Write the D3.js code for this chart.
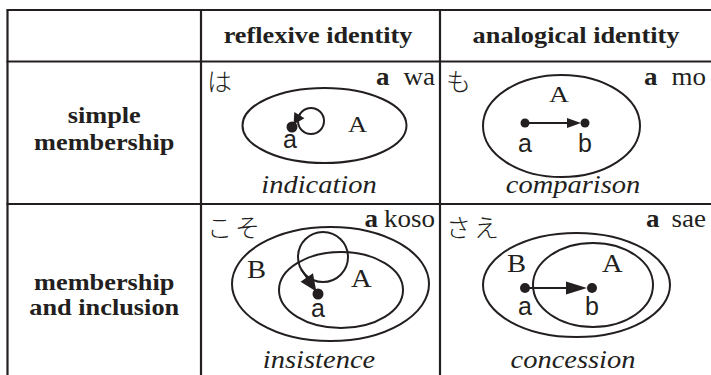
<!DOCTYPE html>
<html>
<head>
<meta charset="utf-8">
<script src="https://cdn.jsdelivr.net/npm/d3@7"></script>
<style>
  body { margin: 0; background: #fff; }
  svg { display: block; }
</style>
</head>
<body>
<div id="chart"></div>
<script>
// Table contents
const columns = ["reflexive identity", "analogical identity"];
const rowLabels = [["simple", "membership"], ["membership", "and inclusion"]];
const kana = [["は", "も"], ["こそ", "さえ"]];
const romaji = [["wa", "mo"], ["koso", "sae"]];
const relations = [["indication", "comparison"], ["insistence", "concession"]];
const setNames = ["A", "B"];
const memberNames = ["a", "b"];

const width = 711, height = 375;
const ink = "#231f20";
const serif = "'Liberation Serif', 'Times New Roman', serif";
const sans = "'Liberation Sans', Arial, sans-serif";
const cjk = "'Noto Sans CJK JP', sans-serif";

// Grid edges
const colEdges = [7.5, 201, 440, 711];
const rowEdges = [10, 61.5, 204, 375];

const svg = d3.select("#chart").append("svg")
    .attr("width", width)
    .attr("height", height);

// Helper for horizontally stretched text (the source is a bit wide)
function label(g, x, y, txt, opts = {}) {
    const t = g.append("text")
        .attr("transform", `translate(${x},${y}) scale(${opts.sx || 1},1)`)
        .attr("text-anchor", opts.anchor || "middle")
        .style("font-family", opts.family || serif)
        .style("font-size", (opts.size || 22) + "px")
        .style("font-weight", opts.weight || "normal")
        .style("font-style", opts.style || "normal")
        .attr("fill", ink)
        .text(txt);
    if (opts.spacing) t.style("letter-spacing", opts.spacing + "px");
    return t;
}

function dot(g, x, y, r = 5) {
    g.append("circle").attr("cx", x).attr("cy", y).attr("r", r).attr("fill", ink);
}

function ellipse(g, cx, cy, rx, ry) {
    g.append("ellipse")
        .attr("cx", cx).attr("cy", cy).attr("rx", rx).attr("ry", ry)
        .attr("fill", "none").attr("stroke", ink).attr("stroke-width", 2);
}

// Straight arrow from p to q, head tip stopping gap short of q
function arrow(g, p, q, len, half, gap) {
    const dx = q[0] - p[0], dy = q[1] - p[1];
    const d = Math.hypot(dx, dy), ux = dx / d, uy = dy / d;
    const tip = [q[0] - ux * gap, q[1] - uy * gap];
    const base = [tip[0] - ux * len, tip[1] - uy * len];
    g.append("line")
        .attr("x1", p[0]).attr("y1", p[1]).attr("x2", base[0] + ux).attr("y2", base[1] + uy)
        .attr("stroke", ink).attr("stroke-width", 2);
    g.append("path")
        .attr("d", d3.line()([tip, [base[0] - uy * half, base[1] + ux * half], [base[0] + uy * half, base[1] - ux * half]]) + "Z")
        .attr("fill", ink);
}

// Self loop: circle with an arrow leaving it at angle deg towards the member
function loop(g, cx, cy, r, deg, target, len, half) {
    g.append("circle").attr("cx", cx).attr("cy", cy).attr("r", r)
        .attr("fill", "none").attr("stroke", ink).attr("stroke-width", 2);
    const a = deg * Math.PI / 180;
    arrow(g, [cx + r * Math.cos(a), cy + r * Math.sin(a)], target, len, half, 3);
}

// Diagrams, in cell-local coordinates
function drawWa(g) {
    ellipse(g, 123.5, 64, 82, 37.5);
    dot(g, 91, 65.5, 5.5);
    loop(g, 110, 59.5, 13, 215, [91, 65.5], 11, 6);
    label(g, 147, 70.5, setNames[0], { size: 23, anchor: "start", sx: 1.15 });
    label(g, 89, 86.5, memberNames[0], { family: sans, size: 25 });
}
function drawMo(g) {
    ellipse(g, 121.5, 64.5, 78.5, 51);
    label(g, 119, 40.5, setNames[0], { size: 24, sx: 1.15 });
    dot(g, 85, 61.5, 4.5);
    dot(g, 145, 61.5, 4.5);
    arrow(g, [85, 61.5], [145, 61.5], 14, 5, 4);
    label(g, 85, 90.5, memberNames[0], { family: sans, size: 25 });
    label(g, 145, 90.5, memberNames[1], { family: sans, size: 25 });
}
function drawKoso(g) {
    ellipse(g, 129.5, 80, 98.5, 57);
    ellipse(g, 140, 86, 62, 38);
    loop(g, 122, 53, 25, 150, [117, 90], 17, 7.5);
    dot(g, 117, 90, 5.5);
    label(g, 46, 74, setNames[1], { size: 26, anchor: "start", sx: 1.1 });
    label(g, 150, 83, setNames[0], { size: 26, anchor: "start", sx: 1.1 });
    label(g, 117, 113, memberNames[0], { family: sans, size: 25 });
}
function drawSae(g) {
    ellipse(g, 136.5, 81, 93.5, 52);
    ellipse(g, 153, 81, 60, 42);
    label(g, 67, 68, setNames[1], { size: 26, anchor: "start", sx: 1.1 });
    label(g, 162, 68, setNames[0], { size: 26, anchor: "start", sx: 1.1 });
    dot(g, 85, 84, 5);
    dot(g, 152, 84, 5);
    arrow(g, [85, 84], [152, 84], 21, 6.5, 5);
    label(g, 85, 111, memberNames[0], { family: sans, size: 25 });
    label(g, 152, 111, memberNames[1], { family: sans, size: 25 });
}
const cells = [[drawWa, drawMo], [drawKoso, drawSae]];

// Table rules
const grid = svg.append("g").attr("stroke", ink).attr("stroke-width", 2.2);
rowEdges.slice(0, 3).forEach(y => {
    grid.append("line").attr("x1", colEdges[0] - 1).attr("x2", width).attr("y1", y).attr("y2", y);
});
colEdges.slice(0, 3).forEach(x => {
    grid.append("line").attr("x1", x).attr("x2", x).attr("y1", rowEdges[0]).attr("y2", height);
});

// Column headers
columns.forEach((c, i) => {
    const cx = i === 0 ? 318 : 576;
    label(svg, cx, 43, c, { weight: "bold", size: 22.5, sx: 1.17 });
});

// Row headers
const rowBase = [[123, 150], [290, 315]];
rowLabels.forEach((lines, i) => {
    lines.forEach((ln, j) => {
        label(svg, (colEdges[0] + colEdges[1]) / 2, rowBase[i][j], ln, { weight: "bold", size: 22.5, sx: 1.17 });
    });
});

// Cell furniture: particle in kana, bold a + romaji, relation name
const kanaBase = [29, 33];
const romajiBase = [23.5, 23];
const relBase = [131, 164];
const romajiGap = [[14, 14], [6, 12]];
for (let r = 0; r < 2; r++) {
    for (let c = 0; c < 2; c++) {
        const x0 = colEdges[c + 1], x1 = colEdges[c + 2], y0 = rowEdges[r + 1];
        const g = svg.append("g").attr("transform", `translate(${x0},${y0})`);
        label(g, 6, kanaBase[r], kana[r][c], { family: cjk, size: 25, anchor: "start", weight: 300, spacing: r === 1 ? 3 : 0 });
        const right = (x1 - x0) - 5;
        const rj = label(g, right, romajiBase[r], romaji[r][c], { size: 25, anchor: "end", sx: 1.08 });
        const w = rj.node().getComputedTextLength() * 1.08;
        label(g, right - w - romajiGap[r][c], romajiBase[r], "a", { size: 25, anchor: "end", weight: "bold", sx: 1.08 });
        label(g, (c === 0 ? 118 : 133), relBase[r], relations[r][c], { size: 25, style: "italic", sx: 1.14 });
        cells[r][c](g);
    }
}
</script>
</body>
</html>
